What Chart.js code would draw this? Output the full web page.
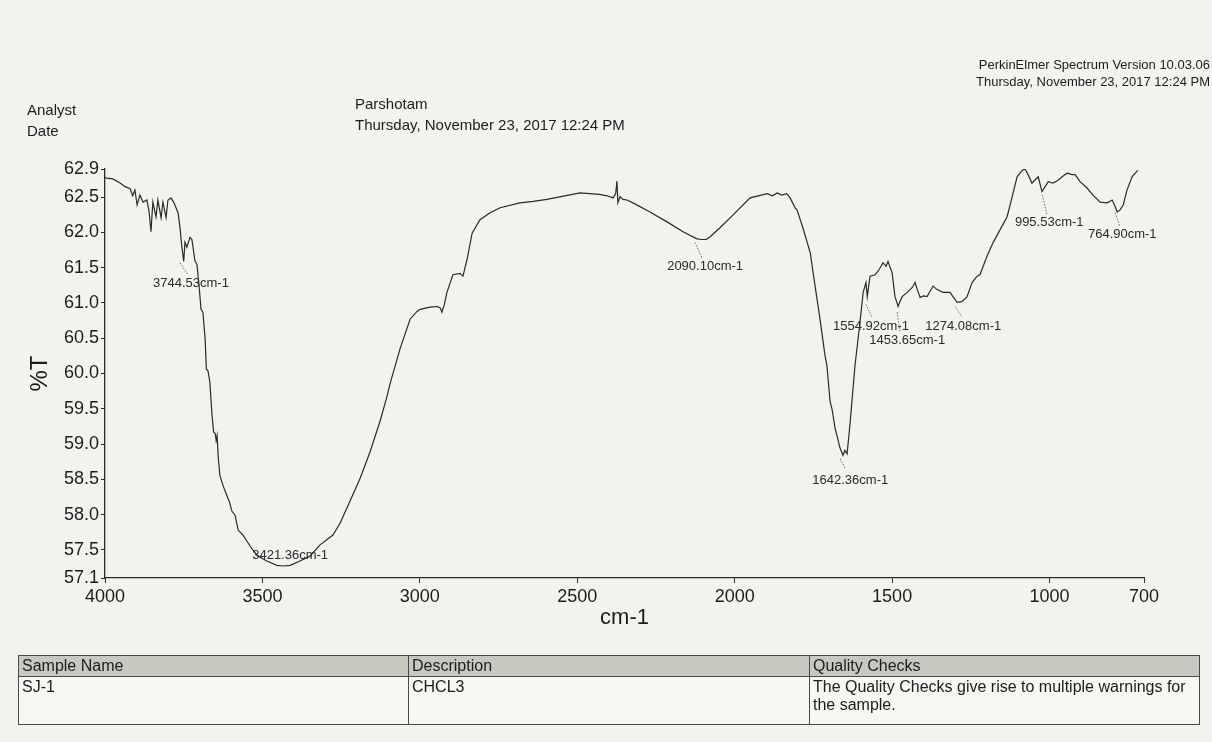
<!DOCTYPE html>
<html>
<head>
<meta charset="utf-8">
<title>IR spectrum SJ-1</title>
<script src="https://cdn.jsdelivr.net/npm/chart.js@4.4.1/dist/chart.umd.min.js"></script>
<style>
  html, body { margin: 0; padding: 0; }
  body {
    width: 1212px; height: 742px; position: relative; overflow: hidden;
    background: #f2f2ef;
    font-family: "Liberation Sans", Arial, sans-serif; color: #1c1c1c;
  }
  #ir { position: absolute; left: 0; top: 0; }
  .txt { position: absolute; white-space: nowrap; line-height: 1; }
  .hdr { font-size: 15px; }
  .pe { font-size: 13px; text-align: right; right: 2px; }
  #info {
    position: absolute; left: 18px; top: 655px; width: 1182px;
    border-collapse: collapse; font-family: "Liberation Sans Narrow", "Liberation Sans", Arial, sans-serif;
    font-size: 16px; color: #1c1c1c;
  }
  #info td { border: 1px solid #4a4a4a; padding: 1px 3px; vertical-align: top; line-height: 18px; }
  #info tr.head td { background: #c8c8c0; height: 17px; }
  #info tr.body td { height: 45px; background: #f6f6f3; }
</style>
</head>
<body>
<canvas id="ir" width="1212" height="742"></canvas>

<div class="txt pe" style="top:58px;">PerkinElmer Spectrum Version 10.03.06</div>
<div class="txt pe" style="top:75px;">Thursday, November 23, 2017 12:24 PM</div>
<div class="txt hdr" style="left:27px; top:102px;">Analyst</div>
<div class="txt hdr" style="left:27px; top:123px;">Date</div>
<div class="txt hdr" style="left:355px; top:96px;">Parshotam</div>
<div class="txt hdr" style="left:355px; top:117px;">Thursday, November 23, 2017 12:24 PM</div>

<table id="info">
  <tr class="head"><td style="width:383px">Sample Name</td><td style="width:394px">Description</td><td>Quality Checks</td></tr>
  <tr class="body"><td>SJ-1</td><td>CHCL3</td><td>The Quality Checks give rise to multiple warnings for<br>the sample.</td></tr>
</table>

<script>
// spectre : nombre d'onde (cm-1) et %T
const wavenumbers = [
  4000, 3994, 3975, 3952, 3936, 3920, 3912, 3905, 3898, 3889, 3879, 3867, 3860, 3854, 3848,
  3838, 3832, 3822, 3816, 3806, 3800, 3790, 3781, 3768, 3762, 3756, 3750, 3746, 3740, 3730,
  3724, 3714, 3708, 3701, 3695, 3689, 3682, 3678, 3673, 3667, 3660, 3655, 3650, 3647, 3644,
  3640, 3635, 3625, 3613, 3605, 3597, 3587, 3577, 3562, 3539, 3517, 3486, 3454, 3435, 3412,
  3381, 3349, 3317, 3276, 3253, 3222, 3190, 3158, 3126, 3104, 3095, 3063, 3031, 3009, 2999,
  2968, 2945, 2935, 2930, 2922, 2914, 2895, 2872, 2863, 2850, 2834, 2809, 2777, 2745, 2682,
  2640, 2596, 2491, 2430, 2405, 2386, 2378, 2374, 2371, 2364, 2355, 2342, 2323, 2269, 2215,
  2164, 2120, 2104, 2090, 2078, 2046, 2005, 1951, 1897, 1880, 1865, 1850, 1835, 1824, 1808,
  1802, 1783, 1760, 1751, 1729, 1713, 1707, 1697, 1691, 1681, 1675, 1666, 1656, 1650, 1643,
  1633, 1618, 1602, 1592, 1583, 1579, 1570, 1554, 1545, 1538, 1529, 1519, 1513, 1506, 1500,
  1491, 1481, 1475, 1468, 1452, 1436, 1427, 1420, 1411, 1400, 1389, 1370, 1357, 1338, 1316,
  1294, 1278, 1262, 1246, 1230, 1221, 1199, 1179, 1157, 1135, 1119, 1103, 1087, 1078, 1068,
  1056, 1047, 1036, 1024, 1014, 1004, 989, 973, 957, 944, 928, 919, 903, 881, 862,
  839, 817, 801, 791, 785, 776, 766, 754, 738, 720
];
const transmittance = [
  62.78, 62.77, 62.76, 62.70, 62.65, 62.62, 62.52, 62.60, 62.39, 62.53, 62.43, 62.46, 62.30, 62.01, 62.43,
  62.22, 62.46, 62.21, 62.43, 62.21, 62.46, 62.49, 62.42, 62.28, 62.08, 61.80, 61.59, 61.86, 61.79, 61.93,
  61.90, 61.59, 61.55, 61.23, 60.91, 60.87, 60.49, 60.06, 60.04, 59.88, 59.40, 59.17, 59.15, 59.05, 59.12,
  58.79, 58.55, 58.41, 58.27, 58.18, 58.05, 57.99, 57.78, 57.71, 57.55, 57.42, 57.34, 57.28, 57.27, 57.28,
  57.34, 57.41, 57.57, 57.71, 57.88, 58.19, 58.51, 58.89, 59.33, 59.68, 59.85, 60.35, 60.77, 60.88, 60.91,
  60.94, 60.95, 60.93, 60.87, 60.98, 61.15, 61.40, 61.42, 61.38, 61.62, 61.99, 62.18, 62.28, 62.35, 62.42,
  62.44, 62.47, 62.56, 62.54, 62.52, 62.49, 62.55, 62.73, 62.42, 62.51, 62.47, 62.46, 62.42, 62.29, 62.15,
  62.01, 61.91, 61.90, 61.90, 61.94, 62.07, 62.25, 62.49, 62.55, 62.52, 62.56, 62.53, 62.55, 62.49, 62.35,
  62.32, 62.06, 61.71, 61.43, 60.77, 60.25, 60.11, 59.60, 59.50, 59.22, 59.12, 58.95, 58.84, 58.91, 58.86,
  59.32, 60.11, 60.73, 61.15, 61.29, 61.09, 61.38, 61.40, 61.45, 61.50, 61.57, 61.52, 61.59, 61.50, 61.43,
  61.09, 60.95, 61.02, 61.09, 61.15, 61.22, 61.29, 61.19, 61.08, 61.10, 61.09, 61.24, 61.19, 61.15, 61.15,
  61.01, 61.02, 61.09, 61.29, 61.38, 61.40, 61.66, 61.86, 62.04, 62.22, 62.50, 62.79, 62.88, 62.90, 62.82,
  62.70, 62.74, 62.79, 62.58, 62.65, 62.72, 62.70, 62.74, 62.80, 62.84, 62.82, 62.82, 62.72, 62.63, 62.53,
  62.43, 62.42, 62.46, 62.36, 62.29, 62.32, 62.39, 62.60, 62.79, 62.88
];

const xTicks = [4000, 3500, 3000, 2500, 2000, 1500, 1000, 700];
const yTicks = [57.1, 57.5, 58.0, 58.5, 59.0, 59.5, 60.0, 60.5, 61.0, 61.5, 62.0, 62.5, 62.9];

// étiquettes des pics (texte, position du texte et trait pointillé, en unités du graphique)
const peakNotes = [
  { text: "3744.53cm-1", at: [3727, 61.28], from: [3762, 61.57], to: [3736, 61.40] },
  { text: "3421.36cm-1", at: [3412, 57.42] },
  { text: "2090.10cm-1", at: [2094, 61.52], from: [2126, 61.86], to: [2104, 61.64] },
  { text: "1642.36cm-1", at: [1633, 58.48], from: [1665, 58.79], to: [1649, 58.65] },
  { text: "1554.92cm-1", at: [1567, 60.67], from: [1583, 60.98], to: [1564, 60.80] },
  { text: "1453.65cm-1", at: [1452, 60.47], from: [1484, 60.87], to: [1475, 60.59] },
  { text: "1274.08cm-1", at: [1274, 60.67], from: [1300, 60.95], to: [1278, 60.80] },
  { text: "995.53cm-1", at: [1001, 62.14], from: [1023, 62.53], to: [1008, 62.25] },
  { text: "764.90cm-1", at: [769, 61.97], from: [792, 62.28], to: [776, 62.08] }
];

const ink = "#2a2a2a";

const peakLabelPlugin = {
  id: "peakLabels",
  afterDatasetsDraw(chart) {
    const { ctx, scales } = chart;
    const sx = scales.x, sy = scales.y;
    ctx.save();
    peakNotes.forEach((n) => {
      if (n.from) {
        ctx.strokeStyle = "#6a6a6a";
        ctx.lineWidth = 1;
        ctx.setLineDash([1.5, 1.5]);
        ctx.beginPath();
        ctx.moveTo(sx.getPixelForValue(n.from[0]), sy.getPixelForValue(n.from[1]));
        ctx.lineTo(sx.getPixelForValue(n.to[0]), sy.getPixelForValue(n.to[1]));
        ctx.stroke();
        ctx.setLineDash([]);
      }
      ctx.fillStyle = ink;
      ctx.font = '13px "Liberation Sans", Arial, sans-serif';
      ctx.textAlign = "center";
      ctx.textBaseline = "middle";
      ctx.fillText(n.text, sx.getPixelForValue(n.at[0]), sy.getPixelForValue(n.at[1]));
    });
    ctx.restore();
  }
};

const points = wavenumbers.map((w, i) => ({ x: w, y: transmittance[i] }));

new Chart(document.getElementById("ir").getContext("2d"), {
  type: "line",
  data: {
    datasets: [
      {
        data: points,
        borderColor: ink,
        borderWidth: 1.2,
        pointRadius: 0,
        tension: 0,
        fill: false,
      },
    ],
  },
  options: {
    responsive: false,
    animation: false,
    devicePixelRatio: 1,
    layout: { padding: { top: 169, right: 68, bottom: 104, left: 0 } },
    plugins: { legend: { display: false }, tooltip: { enabled: false } },
    scales: {
      x: {
        type: "linear",
        reverse: true,
        min: 700,
        max: 4000,
        afterBuildTicks: (s) => { s.ticks = xTicks.map((v) => ({ value: v })); },
        afterFit: (s) => { s.height = 60; },
        ticks: {
          autoSkip: false, maxRotation: 0, padding: 3, color: "#1c1c1c",
          font: { family: "Liberation Sans", size: 18 },
          callback: (v) => String(v),
        },
        grid: { drawOnChartArea: false, drawTicks: true, tickLength: 5, color: ink, lineWidth: 1 },
        border: { display: true, color: ink, width: 1.3 },
        title: {
          display: true, text: "cm-1", color: "#1c1c1c",
          font: { family: "Liberation Sans", size: 22, lineHeight: 1.2 },
          padding: { top: 0, bottom: 7 },
        },
      },
      y: {
        min: 57.1,
        max: 62.9,
        afterBuildTicks: (s) => { s.ticks = yTicks.map((v) => ({ value: v })); },
        afterFit: (s) => { s.width = 105; },
        ticks: {
          autoSkip: false, padding: 2, color: "#1c1c1c",
          font: { family: "Liberation Sans", size: 18 },
          callback: (v) => Number(v).toFixed(1),
        },
        grid: { drawOnChartArea: false, drawTicks: true, tickLength: 4, color: ink, lineWidth: 1 },
        border: { display: true, color: ink, width: 1.3 },
        title: {
          display: true, text: "%T", color: "#1c1c1c",
          font: { family: "Liberation Sans", size: 24, lineHeight: 1.2 },
          padding: { top: 26, bottom: 0 },
        },
      },
    },
  },
  plugins: [peakLabelPlugin],
});
</script>
</body>
</html>
